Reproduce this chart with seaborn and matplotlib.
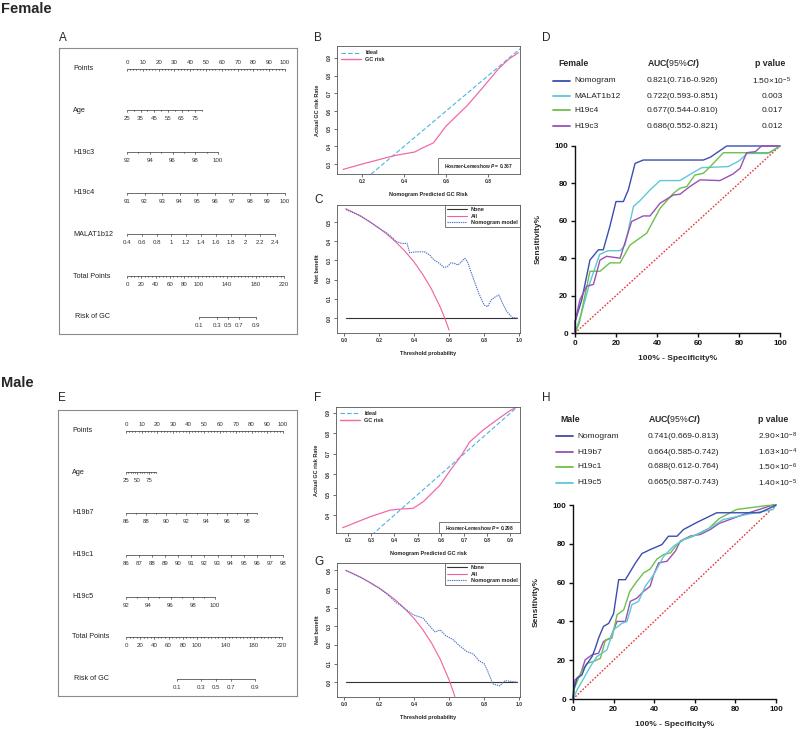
import matplotlib
matplotlib.use('Agg')
import matplotlib.pyplot as plt
import matplotlib.transforms as mtransforms
from matplotlib.lines import Line2D
from matplotlib.patches import Rectangle
import numpy as np
import seaborn as sns

W, H = 799, 731

# ---------------- nomogram scales ----------------
points_ticks = list(range(0, 101, 2))
points_labels = list(range(0, 101, 10))
total_ticks = list(range(0, 221, 5))
total_labels = [0, 20, 40, 60, 80, 100, 140, 180, 220]
risk_labels = [0.1, 0.3, 0.5, 0.7, 0.9]
total_to_points = 0.452

f_age_ticks = list(range(25, 81, 5))
f_age_labels = [25, 35, 45, 55, 65, 75]
f_age_points = [0, 47.5]
f_h19c3_ticks = list(range(92, 101))
f_h19c3_labels = [92, 94, 96, 98, 100]
f_h19c3_points = [0, 57.6]
f_h19c4_ticks = list(range(91, 101))
f_h19c4_labels = list(range(91, 101))
f_h19c4_points = [0, 100]
f_malat_ticks = [0.4, 0.6, 0.8, 1.0, 1.2, 1.4, 1.6, 1.8, 2.0, 2.2, 2.4]
f_malat_labels = f_malat_ticks
f_malat_points = [0, 93.7]
f_risk_center, f_risk_scale = 141, 18

m_age_ticks = list(range(25, 91, 5))
m_age_labels = [25, 50, 75]
m_age_points = [0, 19]
m_h19b7_ticks = list(range(86, 100))
m_h19b7_labels = [86, 88, 90, 92, 94, 96, 98]
m_h19b7_points = [0, 83.4]
m_h19c1_ticks = list(range(86, 99))
m_h19c1_labels = list(range(86, 99))
m_h19c1_points = [0, 100]
m_h19c5_ticks = list(range(92, 101))
m_h19c5_labels = [92, 94, 96, 98, 100]
m_h19c5_points = [0, 56.7]
m_risk_center, m_risk_scale = 127, 25

# ---------------- calibration ----------------
ideal = [0, 1]
f_cal_x = [0.11, 0.2, 0.28, 0.35, 0.41, 0.45, 0.485, 0.54, 0.6, 0.7, 0.78, 0.85, 0.9, 0.944]
f_cal_y = [0.27, 0.30, 0.325, 0.347, 0.36, 0.368, 0.39, 0.42, 0.515, 0.63, 0.74, 0.84, 0.895, 0.93]
m_cal_x = [0.177, 0.296, 0.381, 0.424, 0.481, 0.524, 0.596, 0.646, 0.689, 0.724, 0.781, 0.839, 0.891, 0.935]
m_cal_y = [0.338, 0.392, 0.424, 0.429, 0.433, 0.465, 0.546, 0.628, 0.693, 0.758, 0.815, 0.864, 0.906, 0.935]

# ---------------- decision curves ----------------
none_t = [0.01, 0.99]
none_nb = [0, 0]
f_all_t = [0.01, 0.05, 0.1, 0.15, 0.2, 0.25, 0.3, 0.35, 0.4, 0.45, 0.5, 0.55, 0.575, 0.6]
f_all_nb = [0.57, 0.552, 0.528, 0.5, 0.469, 0.433, 0.393, 0.346, 0.292, 0.227, 0.15, 0.056, 0.0, -0.0625]
f_mod_t = [0.01, 0.05, 0.09, 0.15, 0.2, 0.25, 0.3, 0.33, 0.36, 0.375, 0.41, 0.46, 0.49, 0.515, 0.545,
           0.57, 0.59, 0.61, 0.63, 0.65, 0.67, 0.69, 0.705, 0.735, 0.77, 0.8, 0.82, 0.84, 0.865, 0.885,
           0.905, 0.93, 0.96, 0.99]
f_mod_nb = [0.565, 0.55, 0.535, 0.5, 0.467, 0.44, 0.398, 0.389, 0.389, 0.34, 0.345, 0.345, 0.328, 0.302,
            0.285, 0.264, 0.267, 0.288, 0.285, 0.276, 0.293, 0.311, 0.293, 0.215, 0.128, 0.068, 0.059,
            0.094, 0.111, 0.12, 0.077, 0.033, 0.004, 0.0]
m_all_t = [0.01, 0.05, 0.1, 0.15, 0.2, 0.25, 0.3, 0.35, 0.4, 0.45, 0.5, 0.55, 0.6, 0.633]
m_all_nb = [0.601, 0.584, 0.561, 0.535, 0.506, 0.473, 0.436, 0.392, 0.342, 0.282, 0.21, 0.122, 0.0125, -0.077]
m_mod_t = [0.01, 0.1, 0.2, 0.25, 0.3, 0.32, 0.35, 0.4, 0.45, 0.5, 0.52, 0.55, 0.58, 0.62, 0.66, 0.7,
           0.74, 0.77, 0.8, 0.82, 0.85, 0.89, 0.92, 0.96, 0.99]
m_mod_nb = [0.6, 0.56, 0.505, 0.47, 0.425, 0.415, 0.392, 0.36, 0.345, 0.29, 0.27, 0.28, 0.25, 0.23,
            0.195, 0.165, 0.15, 0.115, 0.1, 0.06, -0.01, -0.02, 0.008, 0.003, 0.0]

# ---------------- ROC ----------------
ref = [0, 100]
f_nomo_x = [0, 0, 3.3, 7.3, 11.4, 13.8, 17, 20, 23.6, 26, 29.3, 33.3, 39.8, 62.6, 66, 74, 100]
f_nomo_y = [0, 6, 17.8, 39, 44.5, 44.5, 57, 70.3, 70.3, 76.5, 90.7, 92.5, 92.5, 92.5, 94, 100, 100]
f_malat_x = [0, 3, 7, 12, 16, 22, 24.4, 28.5, 31.7, 36.6, 41.5, 51.2, 57, 61.8, 74.8, 80, 84, 94, 100]
f_malat_y = [0, 10, 26, 42, 44, 44, 47, 67.6, 70.8, 76.5, 81.5, 81.5, 85.4, 88.4, 89, 92, 96, 96, 100]
f_c4_x = [0, 2, 7.3, 12.2, 17, 22, 26.8, 35, 41.5, 48, 51.2, 54.5, 58.5, 62.6, 66, 72.4, 95, 100]
f_c4_y = [0, 5, 33, 33, 37.5, 37.5, 47, 53.4, 66.7, 74.7, 77.4, 78.3, 84.5, 85.4, 89, 96.4, 96.4, 100]
f_c3_x = [0, 0, 2.4, 5.7, 9, 12.2, 15.4, 22, 27.6, 33.3, 36.6, 41.5, 48, 51.2, 56, 61, 70.7, 77, 80.5,
          83.7, 88, 91, 100]
f_c3_y = [0, 6, 17.8, 25, 26, 39, 41, 40, 59.6, 62.6, 62.6, 69.4, 73.8, 74.2, 78.3, 81.9, 81.5, 85, 88,
          96.4, 97, 100, 100]

m_nomo_x = [0, 0.3, 2, 4.4, 6, 9.4, 11, 12.6, 15, 17.6, 20, 22.5, 25.8, 30.7, 34, 38, 43.8, 47, 51.2,
            54.5, 61, 70.8, 92, 99.5, 100]
m_nomo_y = [0, 4.7, 10.7, 12.4, 16.7, 21.9, 26.2, 31.4, 37.4, 39, 44, 61.5, 61.5, 70, 75, 77, 79.6,
            83.9, 83.9, 87.4, 91, 96, 96, 99.7, 100]
m_b7_x = [0, 1, 3.6, 6, 9.4, 12.6, 15, 18.4, 21.7, 25.8, 28.2, 31.5, 34.8, 38, 39.7, 42.2, 46.3, 50.4,
          52.9, 57.8, 62.7, 67.7, 72, 83.7, 98.5, 100]
m_b7_y = [0, 9.8, 12.4, 20.2, 22.8, 23.6, 29.6, 31.4, 40, 40, 50.3, 52, 55.5, 58.1, 64, 70.2, 71, 76.2,
          81.4, 84, 84.8, 87.4, 90.5, 95, 100, 100]
m_c1_x = [0, 0.7, 3.6, 6.9, 10, 13.5, 16, 19.2, 21.7, 25, 28, 31.5, 34.8, 38, 41.4, 44.7, 48, 51.2,
          54.5, 58.6, 62.7, 67, 72, 80.6, 95.4, 100]
m_c1_y = [0, 5.5, 13, 18.4, 19.3, 21, 30.5, 31.4, 43.4, 46, 55.5, 60.7, 65, 67, 72.2, 74.5, 75.3, 79.6,
          82.2, 83.6, 85.7, 88, 93, 97.7, 99.7, 100]
m_c5_x = [0, 2, 4.4, 8.5, 11.8, 16.7, 20, 24.1, 26.6, 29, 32.3, 35.6, 39.7, 44.7, 49.6, 54.5, 61, 67.7,
          74, 89.5, 98.5, 100]
m_c5_y = [0, 4.7, 9, 16.7, 21.9, 25.3, 35.7, 39, 40, 48.6, 50.3, 58.1, 64, 73.6, 78.8, 82.2, 84.8, 88.3,
          92.5, 96, 97.7, 100]

f_names = ['Nomogram', 'MALAT1b12', 'H19c4', 'H19c3']
f_auc = ['0.821(0.716-0.926)', '0.722(0.593-0.851)', '0.677(0.544-0.810)', '0.686(0.552-0.821)']
f_p = [r'1.50×10$^{-5}$', '0.003', '0.017', '0.012']
m_names = ['Nomogram', 'H19b7', 'H19c1', 'H19c5']
m_auc = ['0.741(0.669-0.813)', '0.664(0.585-0.742)', '0.688(0.612-0.764)', '0.665(0.587-0.743)']
m_p = [r'2.90×10$^{-8}$', r'1.63×10$^{-4}$', r'1.50×10$^{-6}$', r'1.40×10$^{-5}$']

BLUE, CYAN, GREEN, PURPLE = '#3c4db0', '#5fc8d8', '#6cc04a', '#9b50b5'

sns.set_style('ticks')
plt.rcParams['font.family'] = ['Liberation Sans', 'DejaVu Sans']
plt.rcParams['mathtext.fontset'] = 'custom'
plt.rcParams['mathtext.rm'] = 'Liberation Sans'
plt.rcParams['mathtext.it'] = 'Liberation Sans:italic:bold'
plt.rcParams['mathtext.bf'] = 'Liberation Sans:bold'

fig = plt.figure(figsize=(W / 100, H / 100), dpi=100)


def box(x0, y0, x1, y1):
    return [x0 / W, 1 - y1 / H, (x1 - x0) / W, (y1 - y0) / H]


def scale_row(ax, y, ticks, labels, prange, pos=None, above=False, major=2.4, minor=1.4):
    if pos is None:
        v0, v1 = ticks[0], ticks[-1]
        pos = lambda v: prange[0] + (v - v0) / (v1 - v0) * (prange[1] - prange[0])
    ax.plot([pos(ticks[0]), pos(ticks[-1])], [y, y], color='#333', lw=0.5)
    for t in ticks:
        ln = major if any(abs(t - l) < 1e-9 for l in labels) else minor
        ax.plot([pos(t), pos(t)], [y, y + ln], color='#333', lw=0.45)
    for l in labels:
        ax.text(pos(l), y - 7 if above else y + 8.5, '%g' % l, ha='center', va='center',
                fontsize=4.4, color='#333')


def nomogram(pbox, x0, k, row_y, rows, risk_c, risk_s):
    l, t, r, b = pbox
    ax = fig.add_axes(box(l, t, r, b))
    ax.set_xlim((l - x0) / k, (r - x0) / k)
    ax.set_ylim(b, t)
    ax.set_xticks([])
    ax.set_yticks([])
    for s in ax.spines.values():
        s.set_color('#8a8a8a')
        s.set_linewidth(0.8)
    tf = mtransforms.blended_transform_factory(ax.transAxes, ax.transData)
    names = ['Points'] + [r_[0] for r_ in rows] + ['Total Points', 'Risk of GC']
    for name, y in zip(names, row_y):
        ax.text(0.06 if name != 'Risk of GC' else 0.068, y, name, transform=tf, ha='left',
                va='center', fontsize=5.2, color='#222')
    scale_row(ax, row_y[0], points_ticks, points_labels, [0, 100], above=True)
    for (name, ticks, labels, prange), y in zip(rows, row_y[1:]):
        scale_row(ax, y, ticks, labels, prange)
    scale_row(ax, row_y[-2], total_ticks, total_labels, [0, 220 * total_to_points])
    risk_pos = lambda p: (risk_c + risk_s * np.log(p / (1 - p))) * total_to_points
    scale_row(ax, row_y[-1], risk_labels, risk_labels, None, pos=risk_pos)


nomogram((59, 48, 297, 334), 127, 1.58, [69, 110, 152, 193, 234, 276, 317],
         [('Age', f_age_ticks, f_age_labels, f_age_points),
          ('H19c3', f_h19c3_ticks, f_h19c3_labels, f_h19c3_points),
          ('H19c4', f_h19c4_ticks, f_h19c4_labels, f_h19c4_points),
          ('MALAT1b12', f_malat_ticks, f_malat_labels, f_malat_points)],
         f_risk_center, f_risk_scale)
nomogram((58, 410, 297, 696), 126, 1.57, [431, 472, 513, 555, 597, 637, 679],
         [('Age', m_age_ticks, m_age_labels, m_age_points),
          ('H19b7', m_h19b7_ticks, m_h19b7_labels, m_h19b7_points),
          ('H19c1', m_h19c1_ticks, m_h19c1_labels, m_h19c1_points),
          ('H19c5', m_h19c5_ticks, m_h19c5_labels, m_h19c5_points)],
         m_risk_center, m_risk_scale)


def r_axes(pbox, xlim, ylim, xticks, yticks, xlabel, ylabel):
    ax = fig.add_axes(box(*pbox))
    ax.set_xlim(*xlim)
    ax.set_ylim(*ylim)
    for s in ax.spines.values():
        s.set_linewidth(0.6)
        s.set_color('#555')
    ax.tick_params(length=2, width=0.5, pad=1.5, colors='#333')
    ax.set_xticks(xticks)
    ax.set_xticklabels(['%.1f' % v for v in xticks], fontsize=3.6, fontweight='bold')
    ax.set_yticks(yticks)
    ax.set_yticklabels(['%.1f' % v for v in yticks], fontsize=3.6, fontweight='bold',
                       rotation=90, va='center')
    ax.set_xlabel(xlabel, fontsize=4.0, fontweight='bold', labelpad=6)
    ax.set_ylabel(ylabel, fontsize=4.0, fontweight='bold', labelpad=5)
    return ax


def calibration(pbox, cx, cy, xlim, ylim, xticks, yticks, xlabel, p_text, hl_box):
    ax = r_axes(pbox, xlim, ylim, xticks, yticks, xlabel, 'Actual GC risk Rate')
    sns.lineplot(x=ideal, y=ideal, ax=ax, color='#4fb2e3', lw=0.8, linestyle=(0, (4, 2)))
    sns.lineplot(x=cx, y=cy, ax=ax, color='#f06aa8', lw=0.9)
    handles = [Line2D([], [], color='#4fb2e3', lw=0.8, linestyle=(0, (4, 2))),
               Line2D([], [], color='#f06aa8', lw=1.0)]
    ax.legend(handles, ['Ideal', 'GC risk'], loc='upper left', frameon=False,
              prop=dict(size=4, weight='bold'), handlelength=3.5, borderaxespad=0.4,
              labelspacing=0.35)
    x0, h = hl_box
    ax.add_patch(Rectangle((x0, 0), 1 - x0, h, transform=ax.transAxes, fc='white',
                           ec='#444', lw=0.5))
    ax.text((1 + x0) / 2, h / 2, r'Hosmer-Lemeshow $P$ = ' + p_text, transform=ax.transAxes,
            ha='center', va='center', fontsize=3.5, fontweight='bold', color='#222')


def dca(pbox, at, anb, mt, mnb, ylim, yticks):
    ax = r_axes(pbox, (-0.04, 1.005), ylim, [0, 0.2, 0.4, 0.6, 0.8, 1.0], yticks,
                'Threshold probability', 'Net benefit')
    sns.lineplot(x=none_t, y=none_nb, ax=ax, color='#333', lw=0.8)
    sns.lineplot(x=at, y=anb, ax=ax, color='#f0609e', lw=0.8)
    sns.lineplot(x=mt, y=mnb, ax=ax, color='#4a72c4', lw=0.8, linestyle=(0, (1.2, 0.8)))
    handles = [Line2D([], [], color='#333', lw=0.8), Line2D([], [], color='#f0609e', lw=0.8),
               Line2D([], [], color='#4a72c4', lw=0.8, linestyle=(0, (1.2, 0.8)))]
    leg = ax.legend(handles, ['None', 'All', 'Nomogram model'], loc='upper right',
                    fancybox=False, framealpha=1, edgecolor='#444', borderaxespad=0,
                    prop=dict(size=4, weight='bold'), handlelength=3.5, labelspacing=0.25,
                    borderpad=0.4)
    leg.get_frame().set_linewidth(0.5)


calibration((337, 46, 520, 174), f_cal_x, f_cal_y, (0.081, 0.952), (0.244, 0.968),
            [0.2, 0.4, 0.6, 0.8], [0.3, 0.4, 0.5, 0.6, 0.7, 0.8, 0.9],
            'Nomogram Predicted GC Risk', '0.367', (0.55, 0.125))
calibration((336, 407, 520, 533), m_cal_x, m_cal_y, (0.148, 0.941), (0.312, 0.929),
            [0.2, 0.3, 0.4, 0.5, 0.6, 0.7, 0.8, 0.9], [0.4, 0.5, 0.6, 0.7, 0.8, 0.9],
            'Nomogram Predicted GC risk', '0.298', (0.56, 0.085))
dca((337, 205, 520, 333), f_all_t, f_all_nb, f_mod_t, f_mod_nb, (-0.078, 0.589),
    [0.0, 0.1, 0.2, 0.3, 0.4, 0.5])
dca((337, 563, 520, 697), m_all_t, m_all_nb, m_mod_t, m_mod_nb, (-0.08, 0.64),
    [0.0, 0.1, 0.2, 0.3, 0.4, 0.5, 0.6])


def roc(pbox, curves):
    ax = fig.add_axes(box(*pbox))
    sns.lineplot(x=ref, y=ref, ax=ax, color='#e8343a', lw=1.0, linestyle=(0, (1.2, 1.2)))
    for cx, cy, c in curves:
        sns.lineplot(x=cx, y=cy, ax=ax, color=c, lw=1.0, sort=False, estimator=None,
                     clip_on=False)
    ax.set_xlim(0, 100)
    ax.set_ylim(0, 100)
    sns.despine(ax=ax)
    for s in ax.spines.values():
        s.set_linewidth(1.0)
        s.set_color('#111')
    ax.tick_params(length=3, width=1.0, pad=2, colors='#111')
    ticks = [0, 20, 40, 60, 80, 100]
    ax.set_xticks(ticks)
    ax.set_xticklabels([str(v) for v in ticks], fontsize=5.8, fontweight='bold')
    ax.set_yticks(ticks)
    ax.set_yticklabels([str(v) for v in ticks], fontsize=5.8, fontweight='bold')
    ax.set_xlabel('100% - Specificity%', fontsize=6, fontweight='bold', labelpad=6)
    ax.set_ylabel('Sensitivity%', fontsize=6, fontweight='bold', labelpad=9)


roc((575, 146, 780, 333), [(f_nomo_x, f_nomo_y, BLUE), (f_malat_x, f_malat_y, CYAN),
                          (f_c4_x, f_c4_y, GREEN), (f_c3_x, f_c3_y, PURPLE)])
roc((573, 505, 776, 699), [(m_b7_x, m_b7_y, PURPLE), (m_c1_x, m_c1_y, GREEN),
                          (m_c5_x, m_c5_y, CYAN), (m_nomo_x, m_nomo_y, BLUE)])

# ---------------- overlay: titles, panel letters, ROC tables ----------------
ov = fig.add_axes([0, 0, 1, 1])
ov.set_xlim(0, W)
ov.set_ylim(H, 0)
ov.axis('off')
ov.text(1, 9, 'Female', fontsize=10.5, fontweight='bold', va='center')
ov.text(1, 383, 'Male', fontsize=10.5, fontweight='bold', va='center')
for letter, x, y in [('A', 59, 38), ('B', 314, 38), ('C', 314, 200), ('D', 542, 38),
                     ('E', 58, 398), ('F', 314, 398), ('G', 314, 562), ('H', 542, 398)]:
    ov.text(x, y, letter, fontsize=8.5, va='center', ha='left')


def roc_table(title, x_title, y0, dy, names, aucs, ps, colors, x_line, x_auc, x_p, p_center):
    ov.text(x_title, y0, title, fontsize=6.3, fontweight='bold', va='center')
    ov.text(x_auc, y0, r'AUC($\mathit{95\%CI}$)', fontsize=6.3, fontweight='bold', va='center')
    ov.text(x_p + (4 if p_center else 0), y0, 'p value', fontsize=6.3, fontweight='bold',
            va='center')
    for i, (n, a, p, c) in enumerate(zip(names, aucs, ps, colors)):
        y = y0 + dy[i]
        ov.plot([x_line, x_line + 17], [y, y], color=c, lw=1.3)
        ov.text(x_line + 21, y, n, fontsize=6, va='center', color='#222')
        ov.text(x_auc, y, a, fontsize=6, va='center', color='#222')
        if p_center:
            ov.text(772, y, p, fontsize=6, va='center', ha='center', color='#222')
        else:
            ov.text(x_p, y, p, fontsize=6, va='center', color='#222')


roc_table('Female', 558, 64, [17, 32, 46, 62], f_names, f_auc, f_p,
          [BLUE, CYAN, GREEN, PURPLE], 553, 647, 751, True)
roc_table('Male', 560, 420, [16, 32, 47, 63], m_names, m_auc, m_p,
          [BLUE, PURPLE, GREEN, CYAN], 556, 648, 758, False)

fig.savefig('out.png', dpi=100)
